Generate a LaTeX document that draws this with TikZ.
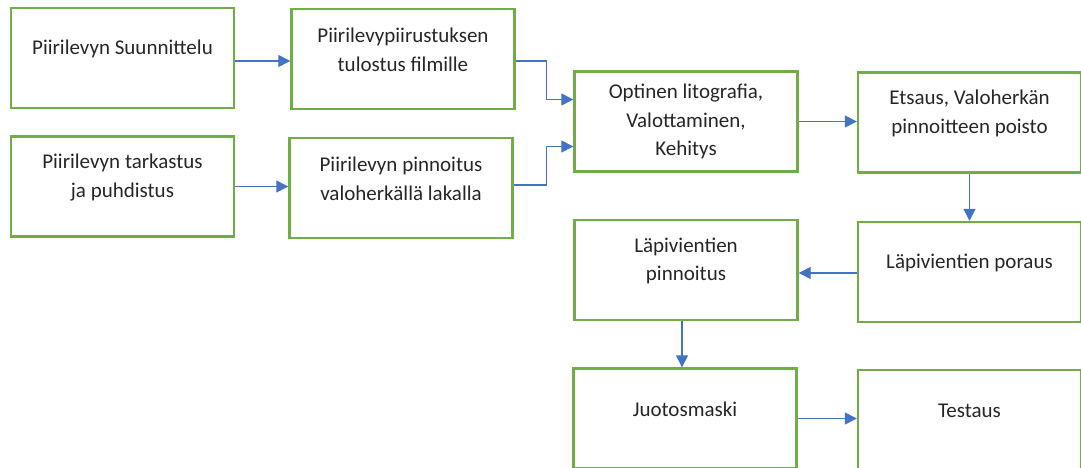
\documentclass[tikz,border=0pt]{standalone}
\usepackage{fontspec}
\setmainfont{Carlito}
\usepackage{xcolor}
\usetikzlibrary{arrows.meta}
\definecolor{boxgreen}{HTML}{70AD47}
\definecolor{flowblue}{HTML}{4472C4}
\definecolor{textgray}{HTML}{262626}

\begin{document}
\begin{tikzpicture}[x=1pt,y=-1pt]
 	\tikzstyle{stage}=[draw=boxgreen, line width=2.4pt, minimum width=223pt, minimum height=100pt, inner sep=0pt]
 	\tikzstyle{caption}=[text=textgray, align=center, font=\fontsize{21}{28.5}\selectfont, inner sep=0pt]
 	\tikzstyle{flow}=[flowblue, line width=1.3pt, -{Triangle[length=12pt,width=12pt]}]
 	\useasboundingbox (0,0) rectangle (1081,468);
 	\clip (0,0) rectangle (1081,468);
 	% boxes
 	\node [stage] (suunnittelu) at (122.5,58) {};
 	\node [stage] (tulostus) at (403,59) {};
 	\node [stage] (tarkastus) at (122.5,186.5) {};
 	\node [stage] (pinnoitus) at (401,188) {};
 	\node [stage] (litografia) at (686,121.5) {};
 	\node [stage] (etsaus) at (969.5,122.5) {};
 	\node [stage] (poraus) at (969.5,272) {};
 	\node [stage] (lapipinnoitus) at (686,270) {};
 	\node [stage] (juotosmaski) at (685,418.5) {};
 	\node [stage] (testaus) at (969.5,420) {};
 	% texts
 	\node [caption] (suunnittelu-t) at ([yshift=9]suunnittelu.center) {Piirilevyn Suunnittelu};
 	\node [caption] (tulostus-t) at ([yshift=9]tulostus.center) {Piirilevypiirustuksen\\tulostus filmille};
 	\node [caption] (tarkastus-t) at ([yshift=9]tarkastus.center) {Piirilevyn tarkastus\\ja puhdistus};
 	\node [caption] (pinnoitus-t) at ([yshift=9]pinnoitus.center) {Piirilevyn pinnoitus\\valoherkällä lakalla};
 	\node [caption] (litografia-t) at (litografia.center) {Optinen litografia,\\Valottaminen,\\Kehitys};
 	\node [caption] (etsaus-t) at ([yshift=9]etsaus.center) {Etsaus, Valoherkän\\pinnoitteen poisto};
 	\node [caption] (poraus-t) at ([yshift=9]poraus.center) {Läpivientien poraus};
 	\node [caption] (lapipinnoitus-t) at ([yshift=9]lapipinnoitus.center) {Läpivientien\\pinnoitus};
 	\node [caption] (juotosmaski-t) at ([yshift=9]juotosmaski.center) {Juotosmaski};
 	\node [caption] (testaus-t) at ([yshift=9]testaus.center) {Testaus};
 	% arrows
 	\draw [flow] ([yshift=-3]suunnittelu.east) -- ([yshift=-3]suunnittelu.east -| tulostus.west);
 	\draw [flow] (tarkastus.east) -- (tarkastus.east -| pinnoitus.west);
 	\draw [flow] ([yshift=-2]tulostus.east) -- ++(31,0) |- ([yshift=22]litografia.west);
 	\draw [flow] ([yshift=3]pinnoitus.east) -- ++(33,0) |- ([yshift=-25]litografia.west);
 	\draw [flow] (litografia.east) -- (litografia.east -| etsaus.west);
 	\draw [flow] (etsaus.south) -- (poraus.north);
 	\draw [flow] ([yshift=-1]poraus.west) -- ([yshift=-1]poraus.west -| lapipinnoitus.east);
 	\draw [flow] ([xshift=-4]lapipinnoitus.south) -- ([xshift=-4]lapipinnoitus.south |- juotosmaski.north);
 	\draw [flow] (juotosmaski.east) -- (juotosmaski.east -| testaus.west);
\end{tikzpicture}
\end{document}
